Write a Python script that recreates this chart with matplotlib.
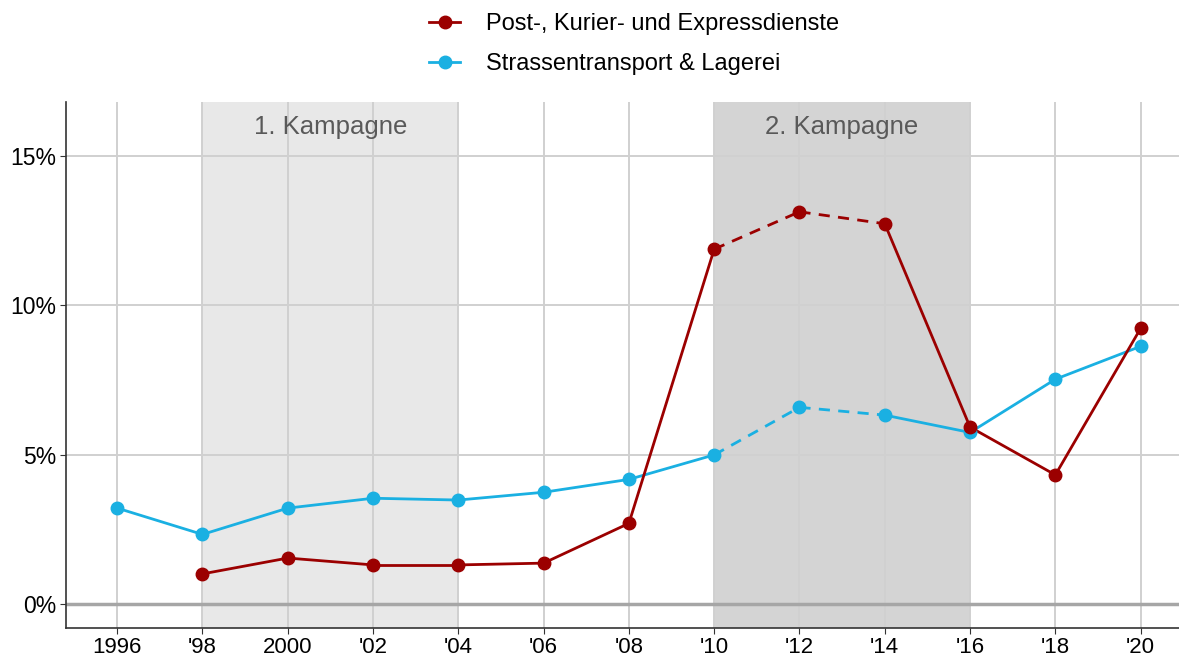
import matplotlib.pyplot as plt
from matplotlib.lines import Line2D

# data (in %)
years = [1996, 1998, 2000, 2002, 2004, 2006, 2008, 2010, 2012, 2014, 2016, 2018, 2020]
year_labels = ['1996', "'98", '2000', "'02", "'04", "'06", "'08", "'10", "'12", "'14", "'16", "'18", "'20"]

post_years = [1998, 2000, 2002, 2004, 2006, 2008, 2010, 2012, 2014, 2016, 2018, 2020]
post_values = [1.02, 1.55, 1.32, 1.32, 1.38, 2.71, 11.88, 13.13, 12.73, 5.93, 4.33, 9.23]

road_years = years
road_values = [3.22, 2.34, 3.22, 3.55, 3.49, 3.75, 4.18, 5.0, 6.59, 6.33, 5.75, 7.53, 8.63]

# years where the line between points is dashed (2010 -> 2014)
dashed_from, dashed_to = 2010, 2014

campaigns = [(1998, 2004, '1. Kampagne', '#e8e8e8'), (2010, 2016, '2. Kampagne', '#d4d4d4')]

red = '#9b0000'
blue = '#1ab0e2'

plt.rcParams['font.family'] = ['Liberation Sans', 'DejaVu Sans']

fig = plt.figure(figsize=(11.79, 6.67), dpi=100)
ax = fig.add_axes([0.056, 0.058, 0.944, 0.789])

for start, end, label, col in campaigns:
    ax.axvspan(start, end, color=col, zorder=0, lw=0)
    ax.text((start + end) / 2, 15.95, label, ha='center', va='center', fontsize=18.5, color='#595959')

ax.grid(True, color='#d0d0d0', lw=1.4, zorder=1)
ax.set_axisbelow(True)
ax.axhline(0, color='#a6a6a6', lw=2.5, zorder=2)


def draw_series(xs, ys, color):
    for i in range(len(xs) - 1):
        seg_x = [xs[i], xs[i + 1]]
        seg_y = [ys[i], ys[i + 1]]
        dashed = xs[i] >= dashed_from and xs[i + 1] <= dashed_to
        ax.plot(seg_x, seg_y, color=color, lw=2, ls=(0, (4, 3)) if dashed else '-', zorder=3)
    ax.plot(xs, ys, ls='none', marker='o', ms=9, color=color, zorder=4)


draw_series(road_years, road_values, blue)
draw_series(post_years, post_values, red)

ax.set_xlim(1994.8, 2020.9)
ax.set_ylim(-0.8, 16.8)
ax.set_xticks(years)
ax.set_xticklabels(year_labels)
ax.set_yticks([0, 5, 10, 15])
ax.set_yticklabels(['0%', '5%', '10%', '15%'])
ax.tick_params(labelsize=16.5, colors='#333333', length=4, color='#333333')
ax.tick_params(axis='x', labelcolor='black', pad=2, labelsize=16)
ax.tick_params(axis='y', labelcolor='black', pad=3)

for side in ['top', 'right']:
    ax.spines[side].set_visible(False)
for side in ['left', 'bottom']:
    ax.spines[side].set_color('#333333')
    ax.spines[side].set_linewidth(1.2)

handles = [
    Line2D([], [], color=red, lw=2, marker='o', ms=9),
    Line2D([], [], color=blue, lw=2, marker='o', ms=9),
]
fig.legend(handles, ['Post-, Kurier- und Expressdienste', 'Strassentransport & Lagerei'],
           loc='upper center', bbox_to_anchor=(0.538, 1.012), frameon=False, fontsize=17,
           handlelength=1.3, handletextpad=1.1, labelspacing=0.75)

plt.savefig('out.png', dpi=100)
